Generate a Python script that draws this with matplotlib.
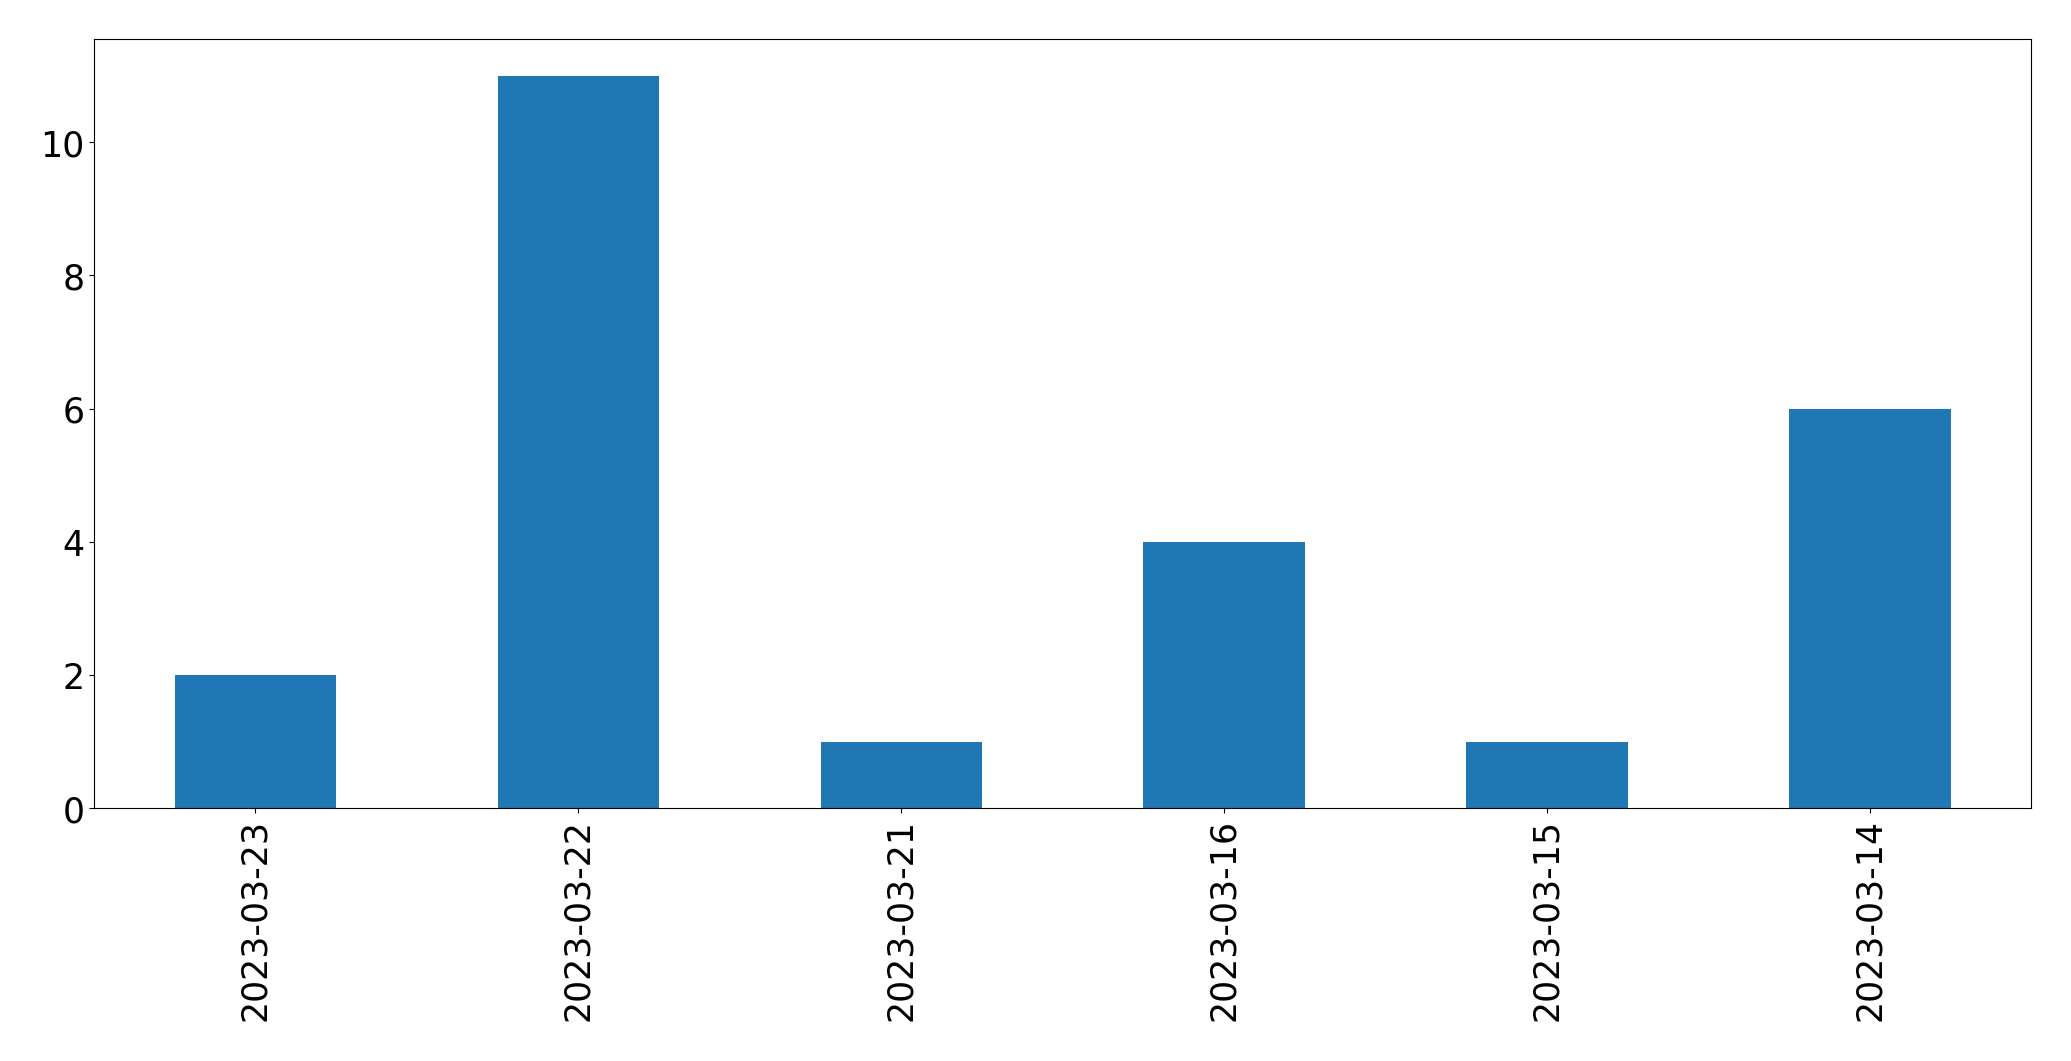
import pandas as pd
import matplotlib
matplotlib.use("Agg")
import matplotlib.pyplot as plt

# dates (as they appear on the x axis) and count per date
dates = ["2023-03-23", "2023-03-22", "2023-03-21", "2023-03-16", "2023-03-15", "2023-03-14"]
counts = [2, 11, 1, 4, 1, 6]

per_day = pd.Series(counts, index=dates)

# 2071 x 1061 px at dpi 100
fig = plt.figure(figsize=(20.715, 10.615), dpi=100)
ax = fig.add_axes([94 / 2071, 1 - 808.5 / 1061, (2031 - 94) / 2071, (808.5 - 39.5) / 1061])
per_day.plot.bar(ax=ax, rot=90, fontsize=25, color="#1f77b4")

fig.savefig("out.png", dpi=100)
